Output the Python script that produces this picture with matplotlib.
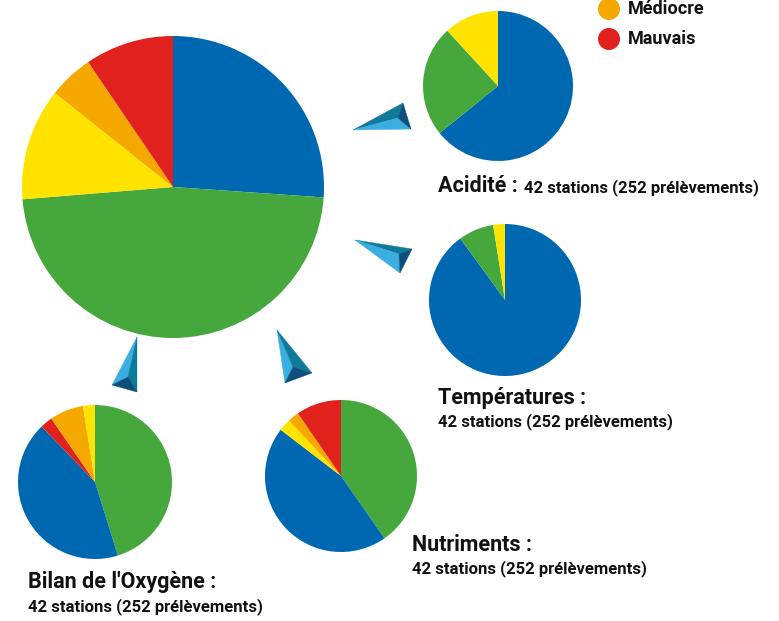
import matplotlib
matplotlib.use("Agg")
import matplotlib.pyplot as plt
from matplotlib.patches import Polygon, Circle

plt.rcParams['font.family'] = ['Roboto', 'DejaVu Sans']

W, H = 779, 621

# quality classes and their colours
blue = "#0068b1"
green = "#46a83c"
yellow = "#ffe300"
orange = "#f4a800"
red = "#e1211e"

# overall pie (all parameters)
global_vals = [26.1, 47.6, 12.0, 4.8, 9.5]
global_cols = [blue, green, yellow, orange, red]

# per-parameter pies
acid_vals = [64.2, 24.0, 11.8]
acid_cols = [blue, green, yellow]

temp_vals = [90.0, 7.5, 2.5]
temp_cols = [blue, green, yellow]

oxy_vals = [45.2, 42.6, 2.6, 7.1, 2.5]
oxy_cols = [green, blue, red, orange, yellow]

nutri_vals = [40.3, 45.1, 2.6, 2.4, 9.6]
nutri_cols = [green, blue, yellow, orange, red]

legend_labels = ["Médiocre", "Mauvais"]
legend_cols = [orange, red]

subtitle = "42 stations (252 prélèvements)"

fig = plt.figure(figsize=(W / 100, H / 100), dpi=100)
ax = fig.add_axes([0, 0, 1, 1])


def py(y):
    # work in image-like coordinates (y down)
    return H - y


def pie(vals, cols, cx, cy, r):
    ax.pie(vals, colors=cols, startangle=90, counterclock=False,
           center=(cx, py(cy)), radius=r,
           wedgeprops=dict(linewidth=0))


pie(global_vals, global_cols, 173, 187, 151)
pie(acid_vals, acid_cols, 498, 86, 75)
pie(temp_vals, temp_cols, 505, 300, 76)
pie(oxy_vals, oxy_cols, 95, 482, 77)
pie(nutri_vals, nutri_cols, 341, 476, 76)

# 3D-looking pointers: tip, two base corners, inner ridge point
arrow_light = "#3aaee0"
arrow_teal = "#0f7a99"
arrow_dark = "#0d4f7a"


def pointer(tip, a, b, inner, face_a, face_b):
    # face tip-a-inner, face tip-inner-b, back face a-b-inner
    for pts, col in [((tip, a, inner), face_a),
                     ((tip, inner, b), face_b),
                     ((a, b, inner), arrow_dark)]:
        ax.add_patch(Polygon([(x, py(y)) for x, y in pts], closed=True,
                             facecolor=col, edgecolor=col, linewidth=0.3))


pointer((353, 130), (403, 103), (411, 129), (398, 118), arrow_teal, arrow_light)
pointer((355, 240), (412, 249), (400, 273), (399, 254), arrow_teal, arrow_light)
pointer((137, 337), (112, 385), (137, 392), (128, 377), arrow_light, arrow_teal)
pointer((277, 330), (285, 383), (312, 373), (293, 367), arrow_light, arrow_teal)

# legend
for i, (lab, col) in enumerate(zip(legend_labels, legend_cols)):
    y = 9 + 30 * i
    ax.add_patch(Circle((609, py(y)), 11, facecolor=col, edgecolor="none"))
    ax.text(628, py(y), lab, fontsize=13, fontweight="bold",
            va="center", ha="left", color="#111111")

big = dict(fontsize=15.5, fontweight="bold", color="#111111", ha="left",
           va="baseline")
small = dict(fontsize=12, fontweight="bold", color="#111111", ha="left",
             va="baseline")

ax.text(438, py(192), "Acidité :", **big)
ax.text(524, py(192), subtitle, **small)

ax.text(438, py(404), "Températures :", **big)
ax.text(438, py(426), subtitle, **small)

ax.text(412, py(551), "Nutriments :", **big)
ax.text(412, py(573), subtitle, **small)

ax.text(28, py(588), "Bilan de l'Oxygène :", **big)
ax.text(28, py(611), subtitle, **small)

ax.set_xlim(0, W)
ax.set_ylim(0, H)
ax.set_aspect("auto")
ax.axis("off")

fig.savefig("out.png", dpi=100)
